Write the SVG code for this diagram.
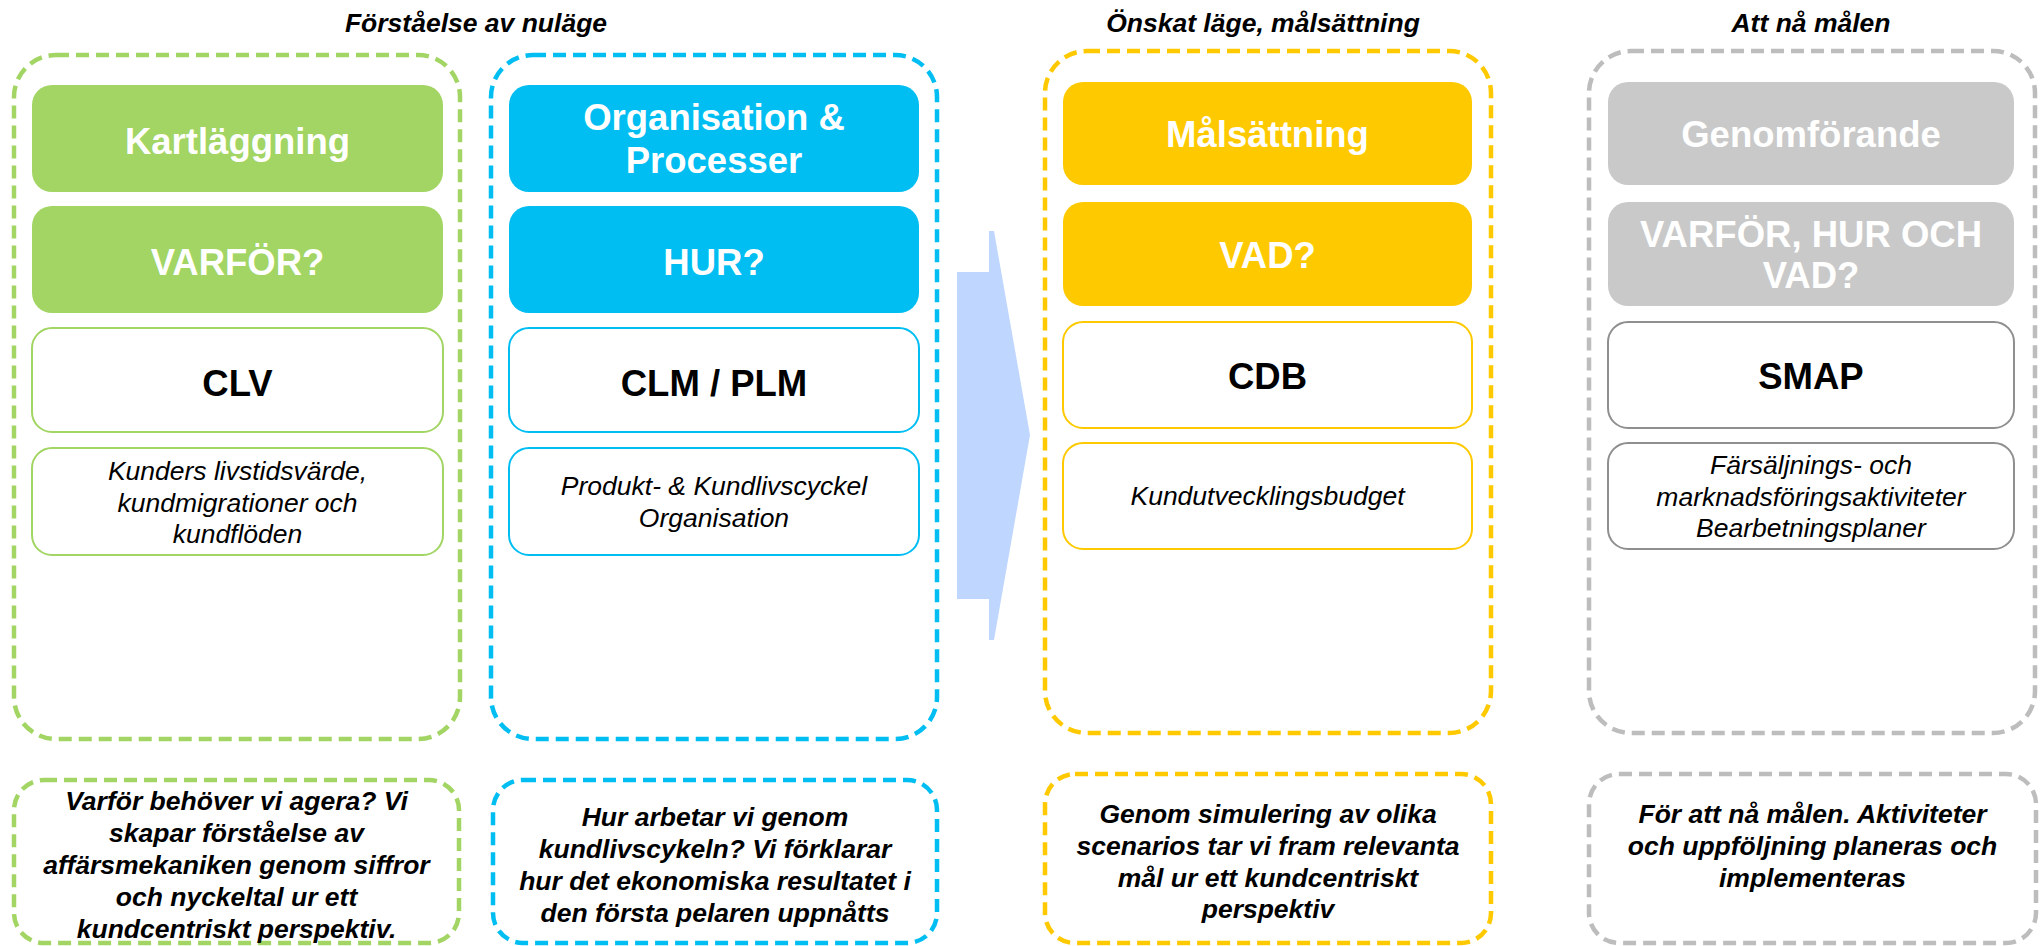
<svg xmlns="http://www.w3.org/2000/svg" width="2044" height="946" viewBox="0 0 2044 946">
<style>
text{font-family:"Liberation Sans",Arial,sans-serif;text-anchor:middle}
.title{font-size:26.5px;font-weight:bold;font-style:italic;fill:#000}
.big{font-size:36.5px;font-weight:bold;fill:#fff}
.key{font-size:36.5px;font-weight:bold;fill:#000}
.desc{font-size:26.5px;font-style:italic;fill:#000}
.note{font-size:26.5px;font-weight:bold;font-style:italic;fill:#000}
.outer{fill:none;stroke-width:4.5;stroke-dasharray:13 7}
.fill{stroke:none}
.wbox{fill:#fff;stroke-width:2}
.g{stroke:#A2D563}.gf{fill:#A2D563}
.b{stroke:#00BEF2}.bf{fill:#00BEF2}
.y{stroke:#FFC900}.yf{fill:#FFC900}
.s{stroke:#BDBDBD}.sf{fill:#C9C9C9}
.sd{stroke:#8F8F8F}
</style>
<text class="title" x="476" y="32">Förståelse av nuläge</text>
<text class="title" x="1263" y="32">Önskat läge, målsättning</text>
<text class="title" x="1811" y="32">Att nå målen</text>

<g id="connectors">
<polygon points="957,272 989,272 989,231 994,231 1030,435 994,640 989,640 989,599 957,599" fill="#BFD7FE"/>
</g>

<g id="col-kartlaggning">
<rect class="outer g" x="14" y="55" width="446" height="684" rx="42"/>
<rect class="gf" x="32" y="85" width="411" height="107" rx="20"/>
<text class="big" x="237.5" y="154">Kartläggning</text>
<rect class="gf" x="32" y="206" width="411" height="107" rx="20"/>
<text class="big" x="237.5" y="275">VARFÖR?</text>
<rect class="wbox g" x="32" y="328" width="411" height="104" rx="20"/>
<text class="key" x="237.5" y="396">CLV</text>
<rect class="wbox g" x="32" y="448" width="411" height="107" rx="20"/>
<text class="desc" x="237.5" y="480">Kunders livstidsvärde,</text>
<text class="desc" x="237.5" y="512">kundmigrationer och</text>
<text class="desc" x="237.5" y="543">kundflöden</text>
</g>

<g id="col-organisation">
<rect class="outer b" x="491" y="55" width="446" height="684" rx="42"/>
<rect class="bf" x="509" y="85" width="410" height="107" rx="20"/>
<text class="big" x="714" y="130">Organisation &amp;</text>
<text class="big" x="714" y="173">Processer</text>
<rect class="bf" x="509" y="206" width="410" height="107" rx="20"/>
<text class="big" x="714" y="275">HUR?</text>
<rect class="wbox b" x="509" y="328" width="410" height="104" rx="20"/>
<text class="key" x="714" y="396">CLM / PLM</text>
<rect class="wbox b" x="509" y="448" width="410" height="107" rx="20"/>
<text class="desc" x="714" y="495">Produkt- &amp; Kundlivscyckel</text>
<text class="desc" x="714" y="527">Organisation</text>
</g>

<g id="col-malsattning">
<rect class="outer y" x="1045" y="51" width="446" height="682" rx="42"/>
<rect class="yf" x="1063" y="82" width="409" height="103" rx="20"/>
<text class="big" x="1267.5" y="147">Målsättning</text>
<rect class="yf" x="1063" y="202" width="409" height="104" rx="20"/>
<text class="big" x="1267.5" y="268">VAD?</text>
<rect class="wbox y" x="1063" y="322" width="409" height="106" rx="20"/>
<text class="key" x="1267.5" y="389">CDB</text>
<rect class="wbox y" x="1063" y="443" width="409" height="106" rx="20"/>
<text class="desc" x="1267.5" y="505">Kundutvecklingsbudget</text>
</g>

<g id="col-genomforande">
<rect class="outer s" x="1589" y="51" width="446" height="682" rx="42"/>
<rect class="sf" x="1608" y="82" width="406" height="103" rx="20"/>
<text class="big" x="1811" y="147">Genomförande</text>
<rect class="sf" x="1608" y="202" width="406" height="104" rx="20"/>
<text class="big" x="1811" y="247">VARFÖR, HUR OCH</text>
<text class="big" x="1811" y="288">VAD?</text>
<rect class="wbox sd" x="1608" y="322" width="406" height="106" rx="20"/>
<text class="key" x="1811" y="389">SMAP</text>
<rect class="wbox sd" x="1608" y="443" width="406" height="106" rx="20"/>
<text class="desc" x="1811" y="474">Färsäljnings- och</text>
<text class="desc" x="1811" y="506">marknadsföringsaktiviteter</text>
<text class="desc" x="1811" y="537">Bearbetningsplaner</text>
</g>

<g id="note-kartlaggning">
<rect class="outer g" x="14" y="780" width="445" height="163" rx="30"/>
<text class="note" x="236.5" y="810">Varför behöver vi agera? Vi</text>
<text class="note" x="236.5" y="842">skapar förståelse av</text>
<text class="note" x="236.5" y="874">affärsmekaniken genom siffror</text>
<text class="note" x="236.5" y="906">och nyckeltal ur ett</text>
<text class="note" x="236.5" y="938">kundcentriskt perspektiv.</text>
</g>

<g id="note-organisation">
<rect class="outer b" x="493" y="780" width="444" height="163" rx="30"/>
<text class="note" x="715" y="826">Hur arbetar vi genom</text>
<text class="note" x="715" y="858">kundlivscykeln? Vi förklarar</text>
<text class="note" x="715" y="890">hur det ekonomiska resultatet i</text>
<text class="note" x="715" y="922">den första pelaren uppnåtts</text>
</g>

<g id="note-malsattning">
<rect class="outer y" x="1045" y="774" width="446" height="169" rx="30"/>
<text class="note" x="1268" y="823">Genom simulering av olika</text>
<text class="note" x="1268" y="855">scenarios tar vi fram relevanta</text>
<text class="note" x="1268" y="887">mål ur ett kundcentriskt</text>
<text class="note" x="1268" y="918">perspektiv</text>
</g>

<g id="note-genomforande">
<rect class="outer s" x="1589" y="774" width="447" height="169" rx="30"/>
<text class="note" x="1812.5" y="823">För att nå målen. Aktiviteter</text>
<text class="note" x="1812.5" y="855">och uppföljning planeras och</text>
<text class="note" x="1812.5" y="887">implementeras</text>
</g>
</svg>
